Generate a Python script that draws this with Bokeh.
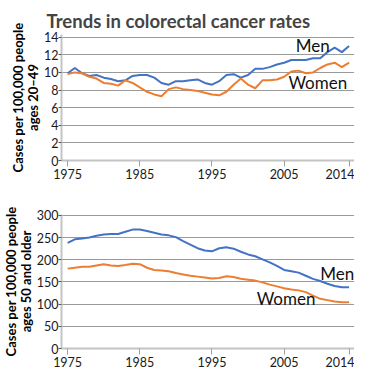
from bokeh.plotting import figure
from bokeh.layouts import column
from bokeh.models import FixedTicker, Range1d
from bokeh.core.properties import value
from bokeh.embed import file_html
from bokeh.resources import INLINE

years = list(range(1975, 2015))

young_men = [9.9, 10.5, 9.9, 9.6, 9.7, 9.4, 9.25, 9.0, 9.1, 9.6, 9.7, 9.7, 9.4, 8.8, 8.6,
             9.0, 9.0, 9.1, 9.2, 8.8, 8.6, 9.0, 9.7, 9.8, 9.4, 9.7, 10.4, 10.4, 10.6, 10.9,
             11.1, 11.4, 11.4, 11.4, 11.6, 11.6, 12.3, 12.8, 12.3, 13.0]
young_women = [9.8, 10.0, 9.9, 9.5, 9.3, 8.8, 8.7, 8.5, 9.1, 8.8, 8.3, 7.8, 7.5, 7.3, 8.1,
               8.3, 8.1, 8.0, 7.9, 7.7, 7.5, 7.4, 7.8, 8.6, 9.3, 8.6, 8.2, 9.1, 9.1, 9.2,
               9.5, 10.1, 10.2, 9.9, 10.0, 10.5, 10.9, 11.1, 10.6, 11.1]
old_men = [238, 246, 248, 250, 254, 257, 258, 258, 263, 268, 268, 265, 261, 257, 255,
           251, 242, 234, 226, 221, 219, 226, 228, 225, 218, 212, 208, 201, 194, 186,
           177, 174, 171, 164, 157, 152, 146, 141, 138, 138]
old_women = [180, 182, 184, 184, 187, 190, 187, 186, 188, 191, 190, 182, 177, 176, 174,
             170, 167, 164, 162, 160, 158, 159, 163, 161, 157, 155, 153, 149, 144, 140,
             136, 133, 131, 127, 119, 112, 109, 106, 104, 104]

x_ticks = [1975, 1985, 1995, 2005, 2014]
young_ticks = [0, 2, 4, 6, 8, 10, 12, 14]
old_ticks = [0, 50, 100, 150, 200, 250, 300]

title_text = "Trends in colorectal cancer rates"
young_label = "Cases per 100,000 people\nages 20\u201349"
old_label = "Cases per 100,000 people\nages 50 and older"

BLUE = "#4472C4"
ORANGE = "#ED7D31"
FONT = "Lato"


def make_fig(height, yr, yticks, ylabel, top, bottom):
    p = figure(width=354, height=height, output_backend="svg", toolbar_location=None,
               x_range=Range1d(1974.15, 2014.75), y_range=yr,
               min_border_left=0, min_border_right=0, min_border_top=top,
               min_border_bottom=bottom)
    p.outline_line_color = None
    p.xgrid.grid_line_color = None
    p.ygrid.grid_line_color = "#9a9a9a"
    p.ygrid.grid_line_width = 1
    p.xaxis.ticker = FixedTicker(ticks=x_ticks)
    p.yaxis.ticker = FixedTicker(ticks=yticks)
    for ax in (p.xaxis[0], p.yaxis[0]):
        ax.axis_line_color = "#c4c4c4"
        ax.axis_line_width = 2
        ax.major_label_text_font = FONT
        ax.major_label_text_font_size = "12.5px"
        ax.major_label_text_color = "#1a1a1a"
        ax.minor_tick_line_color = None
    p.xaxis.major_tick_line_color = "#a0a0a0"
    p.xaxis.major_tick_in = 0
    p.xaxis.major_tick_out = 6
    p.xaxis.major_label_standoff = 2
    p.yaxis.major_tick_line_color = "#555555"
    p.yaxis.major_tick_in = 0
    p.yaxis.major_tick_out = 3
    p.yaxis.major_label_standoff = 0
    p.yaxis.axis_label = ylabel
    p.yaxis.axis_label_text_font = FONT
    p.yaxis.axis_label_text_font_style = "bold"
    p.yaxis.axis_label_text_font_size = "13px"
    p.yaxis.axis_label_text_color = "#000000"
    p.yaxis.axis_label_text_line_height = 0.92
    p.yaxis.axis_label_standoff = 0
    return p


p1 = make_fig(186, Range1d(0, 14.3), young_ticks, young_label, 34, 26)
p1.title.text = title_text
p1.title.text_font = FONT
p1.title.text_font_style = "bold"
p1.title.text_font_size = "18.5px"
p1.title.align = "left"
p1.title.offset = -15
p1.title.standoff = 6
p1.line(years, young_men, line_color=BLUE, line_width=2)
p1.line(years, young_women, line_color=ORANGE, line_width=2)
p1.text(x=[2006.6], y=[13.0], text=["Men"], text_font=value(FONT), text_font_size="17px",
        text_align="left", text_baseline="middle", text_color="#111111")
p1.text(x=[2005.6], y=[8.8], text=["Women"], text_font=value(FONT), text_font_size="17px",
        text_align="left", text_baseline="middle", text_color="#111111")

p2 = make_fig(186, Range1d(0, 302), old_ticks, old_label, 28, 24)
p2.line(years, old_men, line_color=BLUE, line_width=2)
p2.line(years, old_women, line_color=ORANGE, line_width=2)
p2.text(x=[2010.0], y=[169], text=["Men"], text_font=value(FONT), text_font_size="17px",
        text_align="left", text_baseline="middle", text_color="#111111")
p2.text(x=[2001.2], y=[112], text=["Women"], text_font=value(FONT), text_font_size="17px",
        text_align="left", text_baseline="middle", text_color="#111111")

layout = column(p1, p2, spacing=0)
open("out.html", "w").write(file_html(layout, INLINE))
